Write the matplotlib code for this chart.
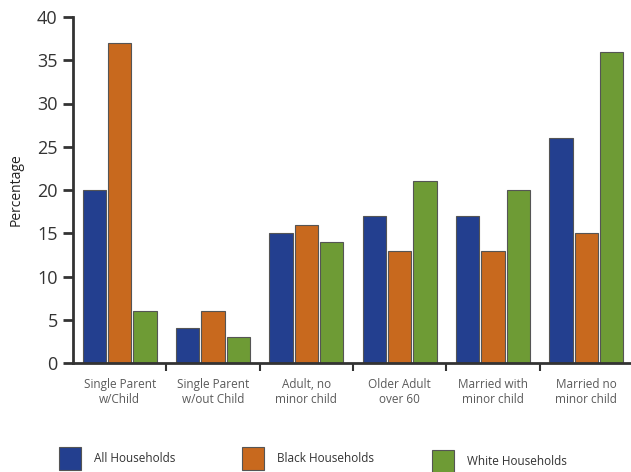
import matplotlib.pyplot as plt
import numpy as np

categories = ["Single Parent\nw/Child", "Single Parent\nw/out Child", "Adult, no\nminor child",
              "Older Adult\nover 60", "Married with\nminor child", "Married no\nminor child"]
all_households = [20, 4, 15, 17, 17, 26]
black_households = [37, 6, 16, 13, 13, 15]
white_households = [6, 3, 14, 21, 20, 36]
series_names = ["All Households", "Black Households", "White Households"]
yticks = [0, 5, 10, 15, 20, 25, 30, 35, 40]

colors = ["#233f8f", "#c8691e", "#6e9b35"]

plt.rcParams['font.family'] = ['Open Sans', 'DejaVu Sans']

fig = plt.figure(figsize=(6.31, 4.72), dpi=100)
ax = fig.add_axes([73 / 631, 1 - 363 / 472, 560 / 631, 346 / 472])

x = np.arange(len(categories))
width = 0.25
step = 0.27
bars = []
for i, (vals, c) in enumerate(zip([all_households, black_households, white_households], colors)):
    b = ax.bar(x + (i - 1) * step, vals, width, color=c, edgecolor="#555555", linewidth=0.8)
    bars.append(b)

ax.set_xlim(-0.5, len(categories) - 0.5)
ax.set_ylim(0, 40)
ax.set_yticks(yticks)
ax.tick_params(axis='y', labelsize=13, length=7, width=2, color="#333333", labelcolor="#333333", pad=4)

# x ticks sit between the groups, labels at the group centres
ax.set_xticks(x[:-1] + 0.5)
ax.set_xticks(x, minor=True)
ax.set_xticklabels([])
ax.set_xticklabels(categories, minor=True, fontsize=8.5, color="#5a5a5a")
ax.tick_params(axis='x', which='major', length=6, width=1.5, color="#333333", direction='out')
ax.tick_params(axis='x', which='minor', length=0, pad=11)

for s in ["top", "right"]:
    ax.spines[s].set_visible(False)
for s in ["left", "bottom"]:
    ax.spines[s].set_linewidth(2)
    ax.spines[s].set_color("#333333")

ax.set_ylabel("Percentage", fontsize=10, color="#222222", labelpad=10)

# legend: one entry each, spread out along the bottom
anchors = [(59 / 631, 0.028), (242 / 631, 0.028), (432 / 631, 0.023)]
for b, name, anc in zip(bars, series_names, anchors):
    fig.legend([b], [name], loc='center left', bbox_to_anchor=anc, frameon=False,
               fontsize=8.5, handlelength=1.9, handleheight=2.6, handletextpad=1.1,
               borderaxespad=0, borderpad=0, labelcolor="#333333")

fig.savefig("out.png", dpi=100)
